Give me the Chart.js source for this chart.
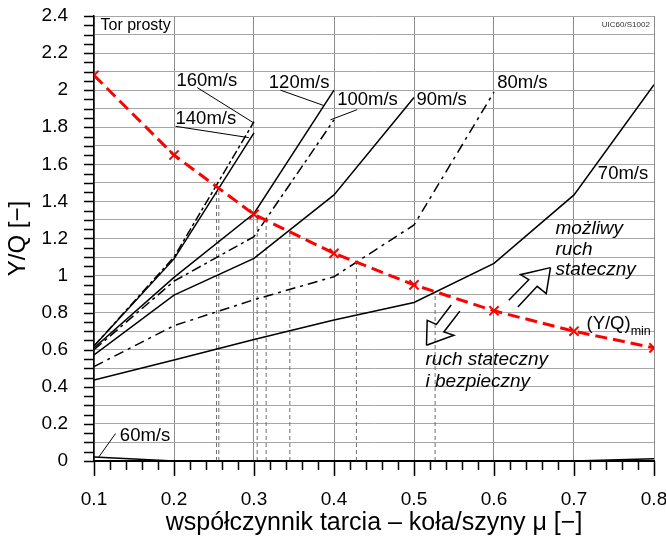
<!DOCTYPE html>
<html><head><meta charset="utf-8">
<script src="https://cdn.jsdelivr.net/npm/chart.js@4.4.1/dist/chart.umd.min.js"></script>
<style>html,body{margin:0;padding:0;background:#fff}#wrap{width:666px;height:543px}</style>
</head><body><div id="wrap"><canvas id="c" width="666" height="543"></canvas></div>
<script>
// ---- data ----
const mu = [0.1, 0.2, 0.3, 0.4, 0.5, 0.6, 0.7, 0.8];
const v160 = [0.62, 1.10, 1.83];
const v140 = [0.62, 1.09, 1.77];
const v120 = [0.61, 0.99, 1.335, 2.00];
const v100 = [0.60, 0.97, 1.21, 1.84];
const v90  = [0.572, 0.895, 1.093, 1.435, 1.96];
const v80  = [0.509, 0.73, 0.87, 0.994, 1.273, 1.99];
const v70  = [0.437, 0.545, 0.655, 0.76, 0.855, 1.066, 1.435, 2.03];
const v60  = [0.022, 0, 0, 0, 0, 0, 0, 0.012];
const yqMin = [2.08, 1.65, 1.33, 1.12, 0.95, 0.81, 0.70, 0.61];
// intersections of (Y/Q)min with the speed curves: [mu, Y]
const crossings = [[0.2531, 1.49], [0.256, 1.48], [0.304, 1.33], [0.3152, 1.295], [0.3448, 1.235], [0.428, 1.07], [0.5264, 0.913]];
// ticks
const xTicks = [0.1, 0.2, 0.3, 0.4, 0.5, 0.6, 0.7, 0.8];
const xTickLabels = ['0.1', '0.2', '0.3', '0.4', '0.5', '0.6', '0.7', '0.8'];
const yTicks = [0, 0.1, 0.2, 0.3, 0.4, 0.5, 0.6, 0.7, 0.8, 0.9, 1.0, 1.1, 1.2, 1.3, 1.4, 1.5, 1.6, 1.7, 1.8, 1.9, 2.0, 2.1, 2.2, 2.3, 2.4];
const yTickLabels = ['0', '', '0.2', '', '0.4', '', '0.6', '', '0.8', '', '1', '', '1.2', '', '1.4', '', '1.6', '', '1.8', '', '2', '', '2.2', '', '2.4'];

const FONT = '"Liberation Sans", Arial, Helvetica, sans-serif';
const pts = arr => arr.map((v, i) => ({x: mu[i], y: v}));

function curve(vals, dash, order) {
  return {data: pts(vals), borderColor: '#000', borderWidth: 1.5, borderDash: dash || [], pointRadius: 0, tension: 0, order: order || 1, fill: false};
}
const datasets = [];
crossings.forEach(c => datasets.push({data: [{x: c[0], y: 0}, {x: c[0], y: c[1]}], borderColor: '#6e6e6e', borderWidth: 1, borderDash: [4, 3], pointRadius: 0, order: 3}));
datasets.push(curve(v160, [9, 3, 3, 3]));
datasets.push(curve(v140));
datasets.push(curve(v120));
datasets.push(curve(v100, [10, 4, 3, 4]));
datasets.push(curve(v90));
datasets.push(curve(v80, [10, 5, 3, 5]));
datasets.push(curve(v70));
datasets.push(curve(v60, [], 1));
datasets.push({data: pts(yqMin), borderColor: '#ff0000', borderWidth: 3, borderDash: [12, 6], pointStyle: 'crossRot', pointRadius: 6.5, pointBorderColor: '#ff0000', pointBorderWidth: 2, pointBackgroundColor: '#ff0000', tension: 0, order: 0});

// ---- annotations (data coordinates) ----
const texts = [
  {t: 'Tor prosty', x: 0.1081, y: 2.35, f: '16px'},
  {t: 'UIC60/S1002', x: 0.7948, y: 2.354, f: '8px', align: 'right', color: '#333'},
  {t: '160m/s', x: 0.2031, y: 2.05, f: '18.5px'},
  {t: '140m/s', x: 0.2019, y: 1.847, f: '18.5px'},
  {t: '120m/s', x: 0.3185, y: 2.039, f: '18.5px'},
  {t: '100m/s', x: 0.404, y: 1.949, f: '18.5px'},
  {t: '90m/s', x: 0.5031, y: 1.949, f: '18.5px'},
  {t: '80m/s', x: 0.604, y: 2.039, f: '18.5px'},
  {t: '70m/s', x: 0.7298, y: 1.55, f: '18.5px'},
  {t: '60m/s', x: 0.1323, y: 0.138, f: '18.5px'},
  {t: 'możliwy', x: 0.6769, y: 1.253, f: 'italic 19px'},
  {t: 'ruch', x: 0.6769, y: 1.142, f: 'italic 19px'},
  {t: 'stateczny', x: 0.6769, y: 1.032, f: 'italic 19px'},
  {t: 'ruch stateczny', x: 0.5144, y: 0.548, f: 'italic 19px'},
  {t: 'i bezpieczny', x: 0.5144, y: 0.428, f: 'italic 19px'}
];
const leaders = [
  [[0.229, 2.014], [0.2998, 1.823]],
  [[0.2019, 1.805], [0.2935, 1.744]],
  [[0.3331, 2.0], [0.3873, 1.917]],
  [[0.429, 1.895], [0.3956, 1.84]],
  [[0.1269, 0.148], [0.106, 0.0216]]
];
const arrows = [
  [[[0.6706, 1.043], [0.6331, 1.005], [0.6435, 0.978], [0.6185, 0.867]], [[0.6706, 1.043], [0.6653, 0.903], [0.654, 0.942], [0.6298, 0.831]]],
  [[[0.5156, 0.624], [0.5165, 0.759], [0.528, 0.737], [0.5465, 0.8414]], [[0.5156, 0.624], [0.5498, 0.678], [0.5373, 0.696], [0.5573, 0.8085]]]
];

const annot = {
  id: 'annot',
  afterDraw(chart) {
    const ctx = chart.ctx, xs = chart.scales.x, ys = chart.scales.y;
    const X = v => xs.getPixelForValue(v), Y = v => ys.getPixelForValue(v);
    const a = chart.chartArea;
    ctx.save();
    // axis ticks
    ctx.strokeStyle = '#000';
    ctx.lineWidth = 1.5;
    ctx.beginPath();
    for (let i = 0; i <= 35; i++) {
      const v = 0.1 + i * 0.02;
      const px = Math.round(X(v)) + 0.5;
      const len = (i % 5 === 0) ? 15 : 9;
      ctx.moveTo(px, a.bottom); ctx.lineTo(px, a.bottom + len);
    }
    for (let i = 0; i <= 48; i++) {
      const py = Math.round(Y(i * 0.05)) + 0.5;
      ctx.moveTo(a.left, py); ctx.lineTo(a.left - 10, py);
    }
    ctx.stroke();
    // leaders
    ctx.lineWidth = 1;
    ctx.beginPath();
    leaders.forEach(l => { ctx.moveTo(X(l[0][0]), Y(l[0][1])); ctx.lineTo(X(l[1][0]), Y(l[1][1])); });
    ctx.stroke();
    // arrows
    ctx.lineWidth = 1.5;
    ctx.lineJoin = 'miter';
    arrows.forEach(ar => ar.forEach(side => {
      ctx.beginPath();
      side.forEach((p, i) => i ? ctx.lineTo(X(p[0]), Y(p[1])) : ctx.moveTo(X(p[0]), Y(p[1])));
      ctx.stroke();
    }));
    // texts
    ctx.textBaseline = 'middle';
    texts.forEach(t => {
      ctx.font = t.f + ' ' + FONT;
      ctx.fillStyle = t.color || '#000';
      ctx.textAlign = t.align || 'left';
      ctx.fillText(t.t, X(t.x), Y(t.y));
    });
    // (Y/Q)min
    ctx.textAlign = 'left';
    ctx.fillStyle = '#000';
    ctx.font = '18.5px ' + FONT;
    const bx = X(0.7156), by = Y(0.741);
    ctx.fillText('(Y/Q)', bx, by);
    const w = ctx.measureText('(Y/Q)').width;
    ctx.font = '12.5px ' + FONT;
    ctx.fillText('min', bx + w, Y(0.696));
    ctx.restore();
  }
};

const noPad = s => { s.paddingTop = 0; s.paddingBottom = 0; s.paddingLeft = 0; s.paddingRight = 0; };

new Chart(document.getElementById('c'), {
  type: 'line',
  data: {datasets},
  plugins: [annot],
  options: {
    responsive: false, animation: false, devicePixelRatio: 1,
    layout: {padding: {top: 16, right: 12, left: 0, bottom: 0}},
    plugins: {legend: {display: false}, tooltip: {enabled: false}},
    scales: {
      x: {
        type: 'linear', min: 0.1, max: 0.8,
        afterBuildTicks: s => { s.ticks = xTicks.map(v => ({value: v})); },
        afterFit: s => { s.height = 82; noPad(s); },
        grid: {color: '#8c8c8c', lineWidth: 1, drawTicks: false},
        border: {color: '#000', width: 2},
        ticks: {padding: 27, color: '#000', font: {family: FONT, size: 19}, maxRotation: 0, autoSkip: false,
          callback: (v, i) => xTickLabels[i]},
        title: {display: true, text: 'współczynnik tarcia – koła/szyny μ [−]', color: '#000', font: {family: FONT, size: 25}, padding: {top: 0, bottom: 5}}
      },
      y: {
        type: 'linear', min: 0, max: 2.4,
        afterBuildTicks: s => { s.ticks = yTicks.map(v => ({value: v})); },
        afterFit: s => { s.width = 94; noPad(s); },
        grid: {color: '#a6a6a6', lineWidth: 1, drawTicks: false},
        border: {color: '#000', width: 1.5},
        ticks: {padding: 26, color: '#000', font: {family: FONT, size: 19}, autoSkip: false,
          callback: (v, i) => yTickLabels[i]},
        title: {display: true, text: 'Y/Q [−]', color: '#000', font: {family: FONT, size: 24}, padding: {top: 4, bottom: 0}}
      }
    }
  }
});
</script></body></html>
